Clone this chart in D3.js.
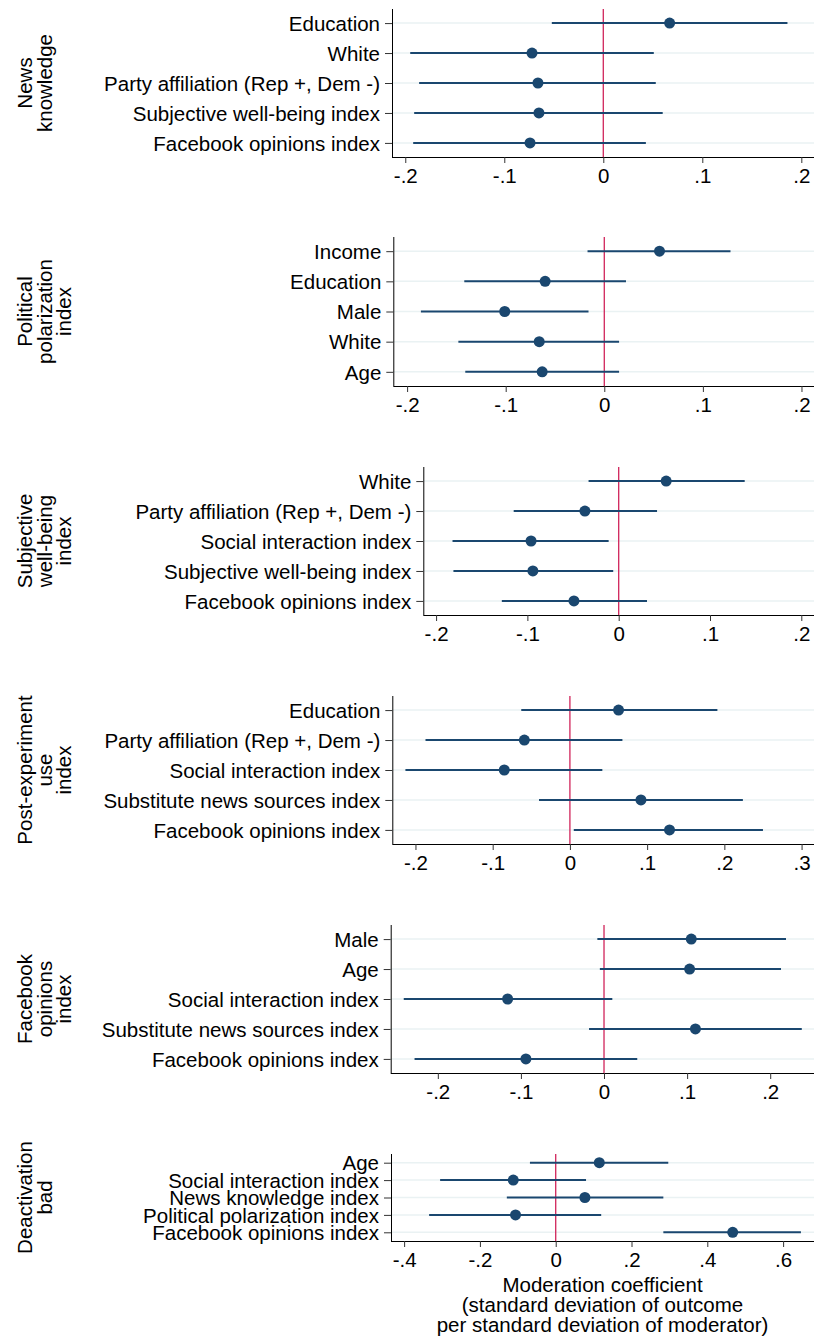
<!DOCTYPE html>
<html>
<head>
<meta charset="utf-8">
<script src="https://cdn.jsdelivr.net/npm/d3@7/dist/d3.min.js"></script>
<style>
  html, body { margin: 0; padding: 0; background: #fff; }
  svg { display: block; }
  text { font-family: "Liberation Sans", Arial, Helvetica, sans-serif; fill: #000; }
</style>
</head>
<body>
<svg id="chart" width="814" height="1339"></svg>
<script>
// ---------- DATA ----------
const panelTitles = [
  ["News", "knowledge"],
  ["Political", "polarization", "index"],
  ["Subjective", "well-being", "index"],
  ["Post-experiment", "use", "index"],
  ["Facebook", "opinions", "index"],
  ["Deactivation", "bad"]
];

const categories1 = ["Education", "White", "Party affiliation (Rep +, Dem -)", "Subjective well-being index", "Facebook opinions index"];
const estimate1 = [0.067, -0.072, -0.066, -0.065, -0.074];
const lower1    = [-0.052, -0.195, -0.186, -0.191, -0.192];
const upper1    = [0.186, 0.051, 0.053, 0.060, 0.043];

const categories2 = ["Income", "Education", "Male", "White", "Age"];
const estimate2 = [0.056, -0.060, -0.101, -0.066, -0.063];
const lower2    = [-0.017, -0.142, -0.186, -0.148, -0.141];
const upper2    = [0.128, 0.022, -0.016, 0.015, 0.015];

const categories3 = ["White", "Party affiliation (Rep +, Dem -)", "Social interaction index", "Subjective well-being index", "Facebook opinions index"];
const estimate3 = [0.052, -0.037, -0.096, -0.094, -0.049];
const lower3    = [-0.033, -0.115, -0.182, -0.181, -0.128];
const upper3    = [0.138, 0.042, -0.011, -0.006, 0.031];

const categories4 = ["Education", "Party affiliation (Rep +, Dem -)", "Social interaction index", "Substitute news sources index", "Facebook opinions index"];
const estimate4 = [0.063, -0.059, -0.085, 0.092, 0.129];
const lower4    = [-0.063, -0.187, -0.213, -0.040, 0.005];
const upper4    = [0.191, 0.068, 0.042, 0.224, 0.250];

const categories5 = ["Male", "Age", "Social interaction index", "Substitute news sources index", "Facebook opinions index"];
const estimate5 = [0.105, 0.103, -0.116, 0.110, -0.094];
const lower5    = [-0.008, -0.005, -0.241, -0.018, -0.228];
const upper5    = [0.219, 0.213, 0.010, 0.238, 0.040];

const categories6 = ["Age", "Social interaction index", "News knowledge index", "Political polarization index", "Facebook opinions index"];
const estimate6 = [0.115, -0.112, 0.077, -0.106, 0.467];
const lower6    = [-0.068, -0.305, -0.129, -0.334, 0.284];
const upper6    = [0.297, 0.080, 0.284, 0.120, 0.647];

const ticksA = [-0.2, -0.1, 0, 0.1, 0.2];
const ticksB = [-0.2, -0.1, 0, 0.1, 0.2, 0.3];
const ticksC = [-0.4, -0.2, 0, 0.2, 0.4, 0.6];

const xTitle = ["Moderation coefficient", "(standard deviation of outcome", "per standard deviation of moderator)"];

// ---------- LAYOUT ----------
const W = 814;
const layout = [
  { left: 392,   top: 9,    bottom: 157,  domain: [-0.2134, 0.2128], pad: 0.47 },
  { left: 393.3, top: 237,  bottom: 386,  domain: [-0.2140, 0.2127], pad: 0.47 },
  { left: 423.3, top: 467,  bottom: 615,  domain: [-0.2140, 0.2139], pad: 0.47 },
  { left: 392.3, top: 696,  bottom: 844,  domain: [-0.2300, 0.3161], pad: 0.47 },
  { left: 390.7, top: 925,  bottom: 1073, domain: [-0.2567, 0.2527], pad: 0.47 },
  { left: 391,   top: 1154, bottom: 1241, domain: [-0.4346, 0.6815], pad: 0.5 }
];

const panels = [
  { cats: categories1, est: estimate1, lo: lower1, hi: upper1, ticks: ticksA },
  { cats: categories2, est: estimate2, lo: lower2, hi: upper2, ticks: ticksA },
  { cats: categories3, est: estimate3, lo: lower3, hi: upper3, ticks: ticksA },
  { cats: categories4, est: estimate4, lo: lower4, hi: upper4, ticks: ticksB },
  { cats: categories5, est: estimate5, lo: lower5, hi: upper5, ticks: ticksA },
  { cats: categories6, est: estimate6, lo: lower6, hi: upper6, ticks: ticksC }
];

const NAVY = "#1a476f";
const ZERO = "#d0245a";
const GRID = "#eaf2f3";
const FS = 20.5;

const fmt = d => {
  if (Math.abs(d) < 1e-9) return "0";
  return (d < 0 ? "-" : "") + "." + Math.round(Math.abs(d) * 10);
};

const svg = d3.select("#chart");

panels.forEach((p, i) => {
  const L = layout[i];
  const x = d3.scaleLinear().domain(L.domain).range([L.left, W]);
  const y = d3.scalePoint().domain(p.cats).range([L.top, L.bottom]).padding(L.pad);
  const g = svg.append("g");
  const rows = p.cats.map((c, j) => ({ c, e: p.est[j], lo: p.lo[j], hi: p.hi[j] }));

  // gridlines
  g.append("g").selectAll("line").data(p.cats).join("line")
    .attr("x1", L.left).attr("x2", W)
    .attr("y1", d => y(d)).attr("y2", d => y(d))
    .attr("stroke", GRID).attr("stroke-width", 1.5);

  // zero line
  g.append("line")
    .attr("x1", x(0)).attr("x2", x(0))
    .attr("y1", L.top).attr("y2", L.bottom)
    .attr("stroke", ZERO).attr("stroke-width", 1.3);

  // y axis
  const yAxis = d3.axisLeft(y).tickSize(7).tickPadding(5);
  const ya = g.append("g").attr("transform", `translate(${L.left},0)`).call(yAxis);
  ya.select(".domain").attr("stroke", "#000").attr("d", `M0.5,${L.top}V${L.bottom}`);
  ya.selectAll(".tick line").attr("stroke", "#333");
  ya.selectAll(".tick text").attr("font-size", FS).attr("dy", "0.35em")
    .style("font-family", "'Liberation Sans', Arial, sans-serif").attr("fill", "#000");

  // x axis
  const xAxis = d3.axisBottom(x).tickValues(p.ticks).tickFormat(fmt).tickSize(6).tickPadding(5);
  const xa = g.append("g").attr("transform", `translate(0,${L.bottom})`).call(xAxis);
  xa.select(".domain").attr("stroke", "#000").attr("d", `M${L.left},0.5H${W}`);
  xa.selectAll(".tick line").attr("stroke", "#333");
  xa.selectAll(".tick text").attr("font-size", FS).attr("dy", "0.75em")
    .style("font-family", "'Liberation Sans', Arial, sans-serif").attr("fill", "#000");

  // CIs
  g.append("g").selectAll("line").data(rows).join("line")
    .attr("x1", d => x(d.lo)).attr("x2", d => x(d.hi))
    .attr("y1", d => y(d.c)).attr("y2", d => y(d.c))
    .attr("stroke", NAVY).attr("stroke-width", 2);

  // points
  g.append("g").selectAll("circle").data(rows).join("circle")
    .attr("cx", d => x(d.e)).attr("cy", d => y(d.c)).attr("r", 5.5)
    .attr("fill", NAVY);

  // panel title (rotated)
  const cy = (L.top + L.bottom) / 2;
  const t = svg.append("text")
    .attr("transform", `translate(32,${cy}) rotate(-90)`)
    .attr("text-anchor", "middle").attr("font-size", FS);
  panelTitles[i].forEach((line, k) => {
    t.append("tspan").attr("x", 0).attr("y", k * 19.5).text(line);
  });
});

// x title
const L6 = layout[5];
const xt = svg.append("text").attr("text-anchor", "middle").attr("font-size", FS);
xTitle.forEach((line, k) => {
  xt.append("tspan").attr("x", (L6.left + W) / 2).attr("y", 1292 + k * 20).text(line);
});
</script>
</body>
</html>
